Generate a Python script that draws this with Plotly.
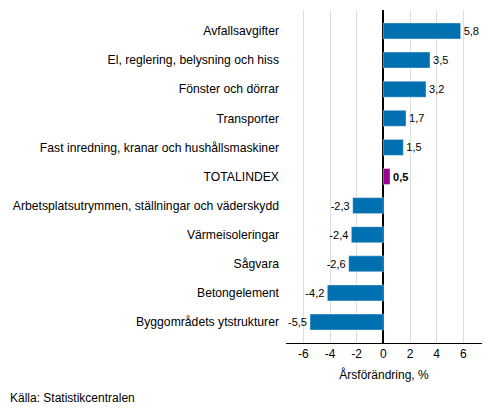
import plotly.graph_objects as go

# Categories listed bottom to top
categories = ['Byggområdets ytstrukturer', 'Betongelement', 'Sågvara', 'Värmeisoleringar',
              'Arbetsplatsutrymmen, ställningar och väderskydd', 'TOTALINDEX',
              'Fast inredning, kranar och hushållsmaskiner', 'Transporter',
              'Fönster och dörrar', 'El, reglering, belysning och hiss', 'Avfallsavgifter']
values = [-5.5, -4.2, -2.6, -2.4, -2.3, 0.5, 1.5, 1.7, 3.2, 3.5, 5.8]
x_ticks = [-6, -4, -2, 0, 2, 4, 6]
x_tick_labels = ['-6', '-4', '-2', '0', '2', '4', '6']

colors = ['#9B0093' if c == 'TOTALINDEX' else '#0070B0' for c in categories]
labels = ['<b>' + f'{v:.1f}'.replace('.', ',') + '</b>' if c == 'TOTALINDEX'
          else f'{v:.1f}'.replace('.', ',') for c, v in zip(categories, values)]

trace = go.Bar(x=values, y=categories, orientation='h', width=0.55,
               marker=dict(color=colors, line=dict(color='rgba(255,255,255,0.4)', width=1)),
               text=labels, textposition='outside', cliponaxis=False,
               textfont=dict(size=11, color='#000000'))

layout = go.Layout(
    width=493, height=416,
    margin=dict(l=286, r=11, t=10, b=73),
    paper_bgcolor='white', plot_bgcolor='white',
    font=dict(family='Liberation Sans, Arial, sans-serif', size=12, color='#000000'),
    showlegend=False,
    xaxis=dict(range=[-7.3, 7.4], tickvals=x_ticks, ticktext=x_tick_labels,
               showgrid=True, gridcolor='#DDDDDD',
               gridwidth=1, zeroline=True, zerolinecolor='#000000', zerolinewidth=1.5,
               showline=True, linecolor='#000000', linewidth=1, ticks='',
               title=dict(text='Årsförändring, %', font=dict(size=12), standoff=10),
               tickfont=dict(size=12)),
    yaxis=dict(range=[-0.72, 10.72], showgrid=False, ticks='', ticklabelstandoff=6,
               tickfont=dict(size=12.2)),
    annotations=[dict(text='Källa: Statistikcentralen', xref='paper', yref='paper',
                      x=-278 / 196, y=-0.165, xanchor='left', yanchor='middle',
                      showarrow=False, font=dict(size=12))]
)

fig = go.Figure(data=[trace], layout=layout)
fig.write_html('out.html', config={'displayModeBar': False},
               post_script="document.body.style.margin='0';")
